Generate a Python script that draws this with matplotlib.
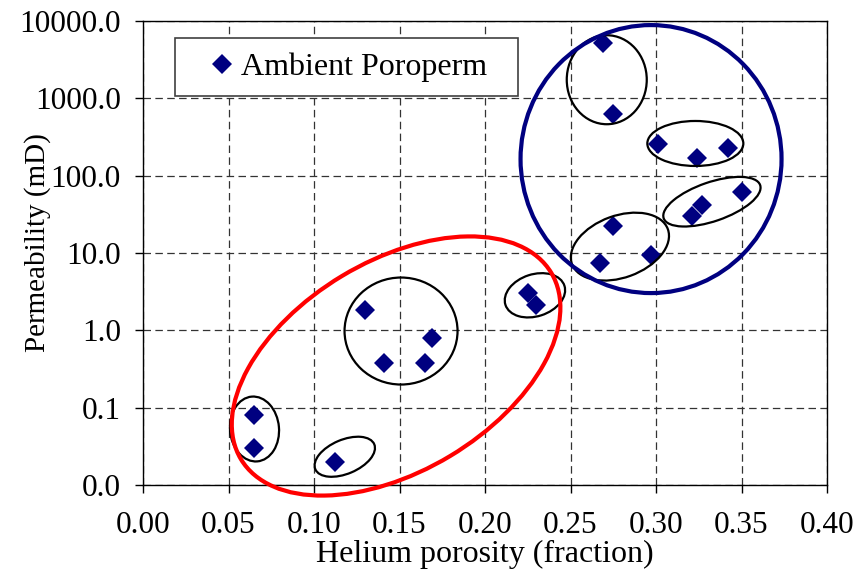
import numpy as np
import matplotlib.pyplot as plt
import matplotlib.transforms as transforms
from matplotlib.patches import Ellipse

# ---------------- DATA ----------------
# helium porosity (fraction) and ambient permeability (mD) per plug
porosity = [0.269, 0.275, 0.301, 0.324, 0.342, 0.350, 0.327, 0.321, 0.275, 0.267,
            0.297, 0.130, 0.169, 0.141, 0.165, 0.225, 0.230, 0.065, 0.065, 0.112]
permeability = [5150, 628, 257, 171, 230, 62, 41.8, 30.1, 22.6, 7.36,
                9.42, 1.83, 0.789, 0.382, 0.382, 3.01, 2.13, 0.0804, 0.0299, 0.0200]

x_ticks = [0.00, 0.05, 0.10, 0.15, 0.20, 0.25, 0.30, 0.35, 0.40]
y_ticks = [0.01, 0.1, 1, 10, 100, 1000, 10000]
y_tick_labels = ["0.0", "0.1", "1.0", "10.0", "100.0", "1000.0", "10000.0"]

# groupings: centre (porosity, permeability), width/height in pixels, tilt in degrees
group_centres = [(0.2712, 1742), (0.3230, 261), (0.3327, 46.1), (0.2789, 12.1),
                 (0.2292, 2.84), (0.1509, 0.98), (0.0652, 0.053), (0.1180, 0.0232)]
group_sizes = [(80, 89), (96, 45), (102, 39), (102, 62),
               (62, 42), (113, 107), (49, 65), (64, 34)]
group_angles = [0, 0, 19, 20, 18, 0, 5, 23]

# facies envelopes: high-perm (navy) and low-perm (red)
high_centre, high_size = (0.2971, 164), (261, 268)
low_centre, low_size, low_angle = (0.1480, 0.346), (362, 210), 31
# --------------------------------------

DPI = 100
plt.rcParams["font.family"] = ["Liberation Serif", "DejaVu Serif"]
plt.rcParams["font.size"] = 22

fig = plt.figure(figsize=(8.62, 5.70), dpi=DPI)
ax = fig.add_axes([0.1659, 0.1491, 0.7935, 0.8140])

ax.set_yscale("log")
ax.set_xlim(0, 0.4)
ax.set_ylim(0.01, 10000)

ax.plot(porosity, permeability, linestyle="none", marker="D", markersize=10,
        color="#000080", markeredgewidth=0, label="Ambient Poroperm", zorder=3)


def draw_ring(centre, size, angle, color, lw):
    # size is in pixels so the ring keeps its shape on the log axis
    tr = fig.dpi_scale_trans + transforms.ScaledTranslation(centre[0], centre[1], ax.transData)
    e = Ellipse((0, 0), size[0] / DPI, size[1] / DPI, angle=angle, transform=tr,
                fill=False, edgecolor=color, linewidth=lw, zorder=4, clip_on=False)
    ax.add_patch(e)


for c, s, a in zip(group_centres, group_sizes, group_angles):
    draw_ring(c, s, a, "black", 1.6)
draw_ring(high_centre, high_size, 0, "#000080", 3.0)
draw_ring(low_centre, low_size, low_angle, "#ff0000", 3.0)

ax.set_xticks(x_ticks)
ax.set_xticklabels([f"{v:.2f}" for v in x_ticks])
ax.set_yticks(y_ticks)
ax.set_yticklabels(y_tick_labels)
ax.minorticks_off()
ax.tick_params(axis="both", direction="out", length=6, width=1, color="black",
               labelsize=22.5)
ax.tick_params(axis="x", pad=13)
ax.tick_params(axis="y", pad=10)

ax.grid(True, color="#333333", linewidth=0.9, linestyle=(0, (6, 3.5)))
ax.set_axisbelow(True)
for sp in ax.spines.values():
    sp.set_linewidth(1.0)
    sp.set_color("black")

ax.set_xlabel("Helium porosity (fraction)", fontsize=23, labelpad=0)
ax.set_ylabel("Permeability (mD)", fontsize=21)
ax.yaxis.set_label_coords(-0.1345, 0.5226)

leg = ax.legend(loc="upper left", bbox_to_anchor=(0.0468, 0.0, 0.5015, 0.9634),
                mode="expand", borderaxespad=0, borderpad=0.45, handlelength=2.04,
                handletextpad=-0.43, fancybox=False, framealpha=1, fontsize=23)
leg.get_frame().set_edgecolor("#404040")
leg.get_frame().set_linewidth(1.2)

fig.savefig("out.png", dpi=DPI)
